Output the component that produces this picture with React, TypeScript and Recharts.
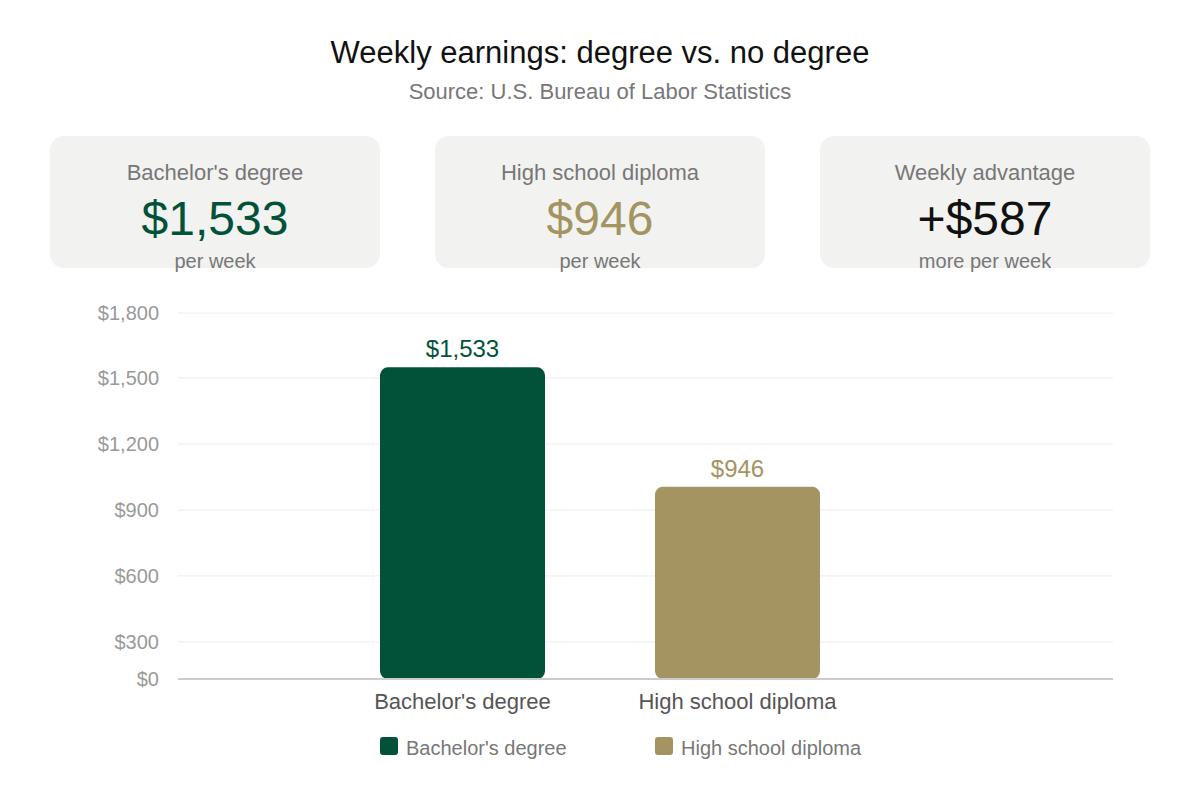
import { Bar, BarChart, CartesianGrid, Cell, LabelList, Legend, XAxis, YAxis } from "recharts"

const categories = ["Bachelor's degree", "High school diploma"]
const weeklyEarnings = [1533, 946]
const seriesColors = ["#02523A", "#A39462"]

// gridline positions and the labels printed next to them
const yTickValues = [0, 182, 507, 831, 1156, 1480, 1800]
const yTickLabels = ["$0", "$300", "$600", "$900", "$1,200", "$1,500", "$1,800"]

const cardTitles = ["Bachelor's degree", "High school diploma", "Weekly advantage"]
const cardValues = ["$1,533", "$946", "+$587"]
const cardNotes = ["per week", "per week", "more per week"]
const cardColors = ["#02523A", "#A39462", "#111111"]

const FONT = "'Liberation Sans', Arial, Helvetica, sans-serif"

const money = (v: number) => "$" + v.toLocaleString("en-US")

function LegendRow() {
  return (
    <div style={{ display: "flex", height: 40, alignItems: "center", paddingLeft: 380, fontFamily: FONT }}>
      {categories.map((name, i) => (
        <div key={name} style={{ width: 275, display: "flex", alignItems: "center" }}>
          <span
            style={{
              width: 18,
              height: 18,
              borderRadius: 3,
              background: seriesColors[i],
              marginRight: 8,
              marginTop: -4,
            }}
          />
          <span style={{ fontSize: 20, color: "#777" }}>{name}</span>
        </div>
      ))}
    </div>
  )
}

export default function App() {
  const data = categories.map((name, i) => ({ name, value: weeklyEarnings[i] }))

  return (
    <div style={{ position: "absolute", left: 0, top: 0, width: 1200, height: 800, background: "#fff", fontFamily: FONT }}>
      <div style={{ position: "absolute", top: 33, width: 1200, textAlign: "center", fontSize: 31, color: "#111", lineHeight: "40px" }}>
        Weekly earnings: degree vs. no degree
      </div>
      <div style={{ position: "absolute", top: 79, width: 1200, textAlign: "center", fontSize: 22, color: "#777", lineHeight: "26px" }}>
        Source: U.S. Bureau of Labor Statistics
      </div>

      {cardTitles.map((title, i) => (
        <div
          key={title}
          style={{
            position: "absolute",
            left: 50 + i * 385,
            top: 136,
            width: 330,
            height: 132,
            borderRadius: 14,
            background: "#F2F2F0",
            textAlign: "center",
          }}
        >
          <div style={{ position: "absolute", top: 23, width: "100%", fontSize: 22, color: "#777", lineHeight: "28px" }}>{title}</div>
          <div style={{ position: "absolute", top: 55, width: "100%", fontSize: 48, color: cardColors[i], lineHeight: "56px" }}>
            {cardValues[i]}
          </div>
          <div style={{ position: "absolute", top: 112, width: "100%", fontSize: 20, color: "#777", lineHeight: "26px" }}>{cardNotes[i]}</div>
        </div>
      ))}

      <div style={{ position: "absolute", left: 0, top: 290 }}>
        <BarChart width={1200} height={500} data={data} margin={{ top: 23, right: 87, left: 0, bottom: 22 }}>
          <CartesianGrid vertical={false} stroke="#ececec" />
          <XAxis
            dataKey="name"
            padding={{ left: 147, right: 238 }}
            axisLine={{ stroke: "#cccccc", strokeWidth: 2 }}
            tickLine={false}
            tickMargin={8}
            height={49}
            tick={{ fontSize: 22, fill: "#555", fontFamily: FONT }}
          />
          <YAxis
            width={178}
            domain={[0, 1800]}
            ticks={yTickValues}
            interval={0}
            tickFormatter={(_v: number, i: number) => yTickLabels[i]}
            axisLine={false}
            tickLine={false}
            tickMargin={13}
            tick={{ fontSize: 20, fill: "#999", fontFamily: FONT }}
          />
          <Legend verticalAlign="bottom" height={40} content={() => <LegendRow />} />
          <Bar dataKey="value" barSize={165} radius={[8, 8, 8, 8]} isAnimationActive={false}>
            {data.map((d, i) => (
              <Cell key={d.name} fill={seriesColors[i]} />
            ))}
            <LabelList
              dataKey="value"
              position="top"
              offset={10}
              content={(props: any) => {
                const { x, y, width, value, index } = props
                return (
                  <text
                    x={x + width / 2}
                    y={y - 10}
                    textAnchor="middle"
                    fontSize={24}
                    fontFamily={FONT}
                    fill={seriesColors[index]}
                  >
                    {money(value)}
                  </text>
                )
              }}
            />
          </Bar>
        </BarChart>
      </div>
    </div>
  )
}
